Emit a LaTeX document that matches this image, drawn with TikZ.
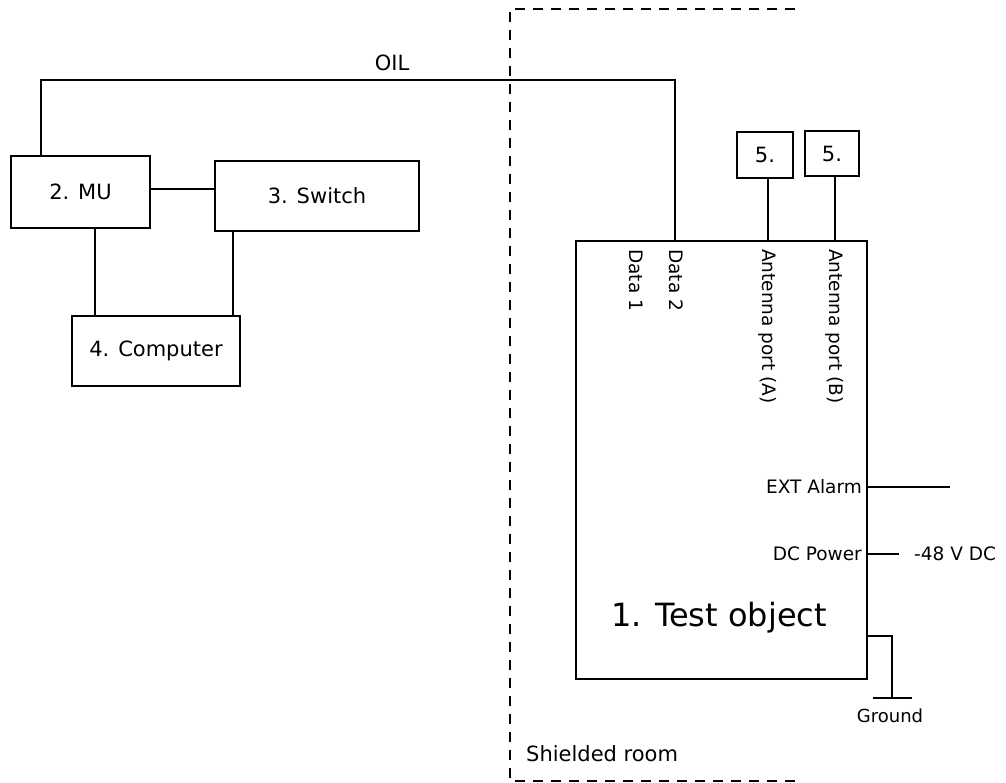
\documentclass[tikz,border=0pt]{standalone}
\usepackage{fontspec}
\setmainfont{DejaVu Sans}
\begin{document}
\begin{tikzpicture}[x=1pt,y=-1pt,
  wire/.style={line width=2pt, line cap=rect},
  box/.style={draw, line width=2pt, inner sep=0pt, font=\fontsize{21}{24}\selectfont},
  lbl/.style={inner sep=0pt, font=\fontsize{18.5}{22}\selectfont},
  vlbl/.style={inner sep=0pt, rotate=-90, anchor=west, font=\fontsize{18.5}{22}\selectfont},
  room/.style={line width=1.8pt, dash pattern=on 10pt off 8pt}]
\useasboundingbox (0,0) rectangle (1006,783);
% boxes
\node[box, minimum width=139pt, minimum height=72pt] (mu) at (80.5,192) {2. MU};
\node[box, minimum width=204pt, minimum height=70pt] (sw) at (317,196) {3. Switch};
\node[box, minimum width=168pt, minimum height=70pt] (comp) at (156,351) {4. Computer};
\node[box, minimum width=291pt, minimum height=438pt] (test) at (721.5,460) {};
\node[box, minimum width=56pt, minimum height=46pt] (a5) at (765,155) {5.};
\node[box, minimum width=54pt, minimum height=45pt] (b5) at (832,154) {5.};
\node[inner sep=0pt, font=\fontsize{32}{38}\selectfont] (tlabel) at (719,618) {1. Test object};
% connectors
\draw[wire] (mu.east |- 0,189) -- (sw.west |- 0,189);
\draw[wire] (95,0 |- mu.south) -- (95,0 |- comp.north);
\draw[wire] (233,0 |- sw.south) -- (233,0 |- comp.north);
\draw[wire] (41,0 |- mu.north) -- (41,80) -- (675,80) -- (675,0 |- test.north);
\node[lbl, font=\fontsize{21}{24}\selectfont] (oil) at (392,63) {OIL};
\draw[wire] (768,0 |- a5.south) -- (768,0 |- test.north);
\draw[wire] (835,0 |- b5.south) -- (835,0 |- test.north);
% port labels
\node[vlbl] (d1) at (636,249) {Data 1};
\node[vlbl] (d2) at (676,249) {Data 2};
\node[vlbl] (pa) at (768,249) {Antenna port (A)};
\node[vlbl] (pb) at (835,249) {Antenna port (B)};
% right side
\coordinate (extend) at (949,487);
\draw[wire] (test.east |- extend) -- (extend);
\node[lbl, anchor=east] (ext) at (862,487) {EXT Alarm};
\coordinate (dcend) at (898,554);
\draw[wire] (test.east |- dcend) -- (dcend);
\node[lbl, anchor=east] (dc) at (862,554) {DC Power};
\node[lbl, anchor=west] (v48) at (914,554) {-48 V DC};
% ground
\coordinate (gnd) at (892,698);
\draw[wire] (test.east |- 0,636) -- (892,636) -- (gnd);
\draw[wire] (874,698) -- (911,698);
\node[lbl, font=\fontsize{18}{22}\selectfont] (glbl) at (890,716) {Ground};
% shielded room
\draw[room] (795,9) -- (510,9) -- (510,781) -- (795,781);
\node[lbl, anchor=west, font=\fontsize{21}{24}\selectfont] (sroom) at (526,754) {Shielded room};
\end{tikzpicture}
\end{document}
